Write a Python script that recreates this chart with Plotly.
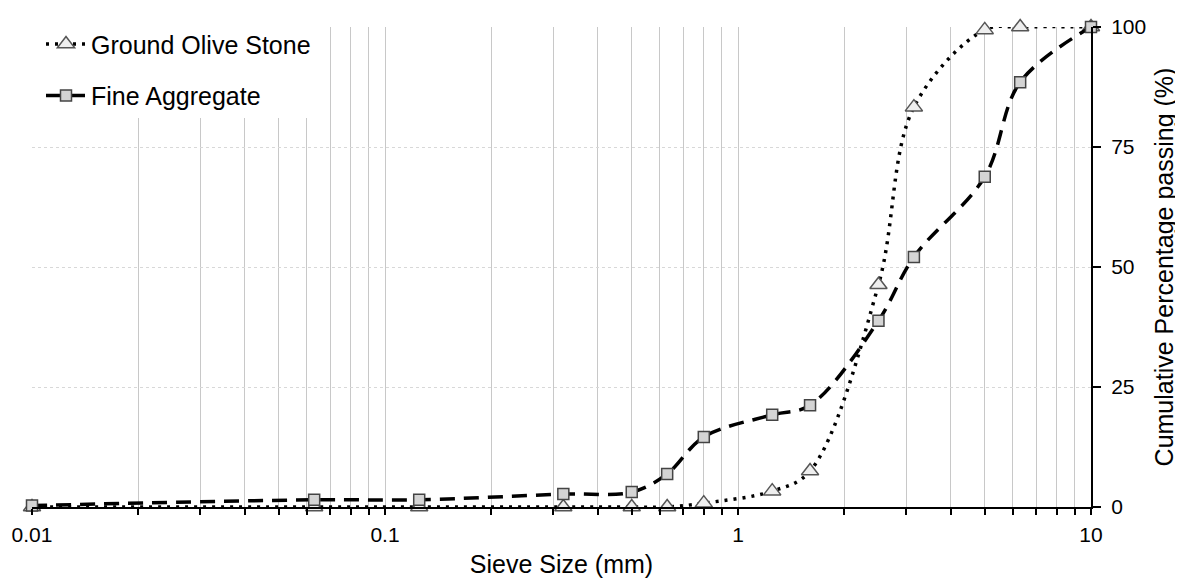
import plotly.graph_objects as go

sieve_mm = [0.01, 0.063, 0.125, 0.32, 0.5, 0.63, 0.8, 1.25, 1.6, 2.5, 3.15, 5, 6.3, 10]
olive_stone = [0, 0, 0, 0, 0, 0, 0.8, 3.3, 7.5, 46.3, 83.3, 99.4, 100, 100]
fine_aggregate = [0.3, 1.5, 1.5, 2.7, 3.1, 6.9, 14.6, 19.2, 21.2, 38.8, 52.1, 68.8, 88.5, 100]

x_tick_vals = [0.01, 0.1, 1, 10]
x_tick_text = ["0.01", "0.1", "1", "10"]
y_tick_vals = [0, 25, 50, 75, 100]

FONT = "Liberation Sans, Arial, sans-serif"

fig = go.Figure()
fig.add_trace(go.Scatter(
    x=sieve_mm, y=olive_stone, name="Ground Olive Stone", legendgroup="g1",
    mode="lines+markers", line=dict(color="black", width=3.5, dash="3px,6px", shape="spline", smoothing=1),
    marker=dict(symbol="triangle-up", size=15, color="#eeeeee", line=dict(color="#555555", width=1.5)),
    cliponaxis=False,
))
fig.add_trace(go.Scatter(
    x=sieve_mm, y=fine_aggregate, name="Fine Aggregate", legendgroup="g2",
    mode="lines+markers", line=dict(color="black", width=3.5, dash="15px,9px", shape="spline", smoothing=1),
    marker=dict(symbol="square", size=11, color="#d4d4d4", line=dict(color="#444444", width=1.5)),
    cliponaxis=False,
))

fig.update_layout(
    width=1175, height=571,
    margin=dict(l=24, r=92, t=19, b=72),
    paper_bgcolor="white", plot_bgcolor="white",
    font=dict(family=FONT, color="black", size=21),
    showlegend=True,
    legend=dict(x=0.0085, y=1.012, xanchor="left", yanchor="top", bgcolor="white",
                font=dict(size=25, family=FONT), traceorder="grouped", tracegroupgap=16,
                itemwidth=40),
    xaxis=dict(
        type="log", range=[-2, 1], tickvals=x_tick_vals, ticktext=x_tick_text,
        showline=True, linecolor="black", linewidth=2,
        ticks="outside", ticklen=6, tickwidth=2, tickcolor="black",
        showgrid=True, gridcolor="#c8c8c8", gridwidth=1,
        minor=dict(dtick="D1", showgrid=True, gridcolor="#c8c8c8", gridwidth=1,
                   ticks="outside", ticklen=6, tickwidth=2, tickcolor="black"),
        tickfont=dict(size=21), zeroline=False, automargin=False, ticklabelstandoff=2,
        title=dict(text="Sieve Size (mm)", font=dict(size=25), standoff=10),
    ),
    yaxis=dict(
        side="right", range=[0, 100], tickvals=y_tick_vals,
        showline=True, linecolor="black", linewidth=2,
        ticks="outside", ticklen=8, tickwidth=2, tickcolor="black",
        showgrid=True, gridcolor="#d8d8d8", gridwidth=1, griddash="dot",
        zeroline=False, tickfont=dict(size=21), automargin=False, ticklabelstandoff=6,
        title=dict(text="Cumulative Percentage passing (%)", font=dict(size=25), standoff=10),
    ),
)

fig.write_html("out.html")
